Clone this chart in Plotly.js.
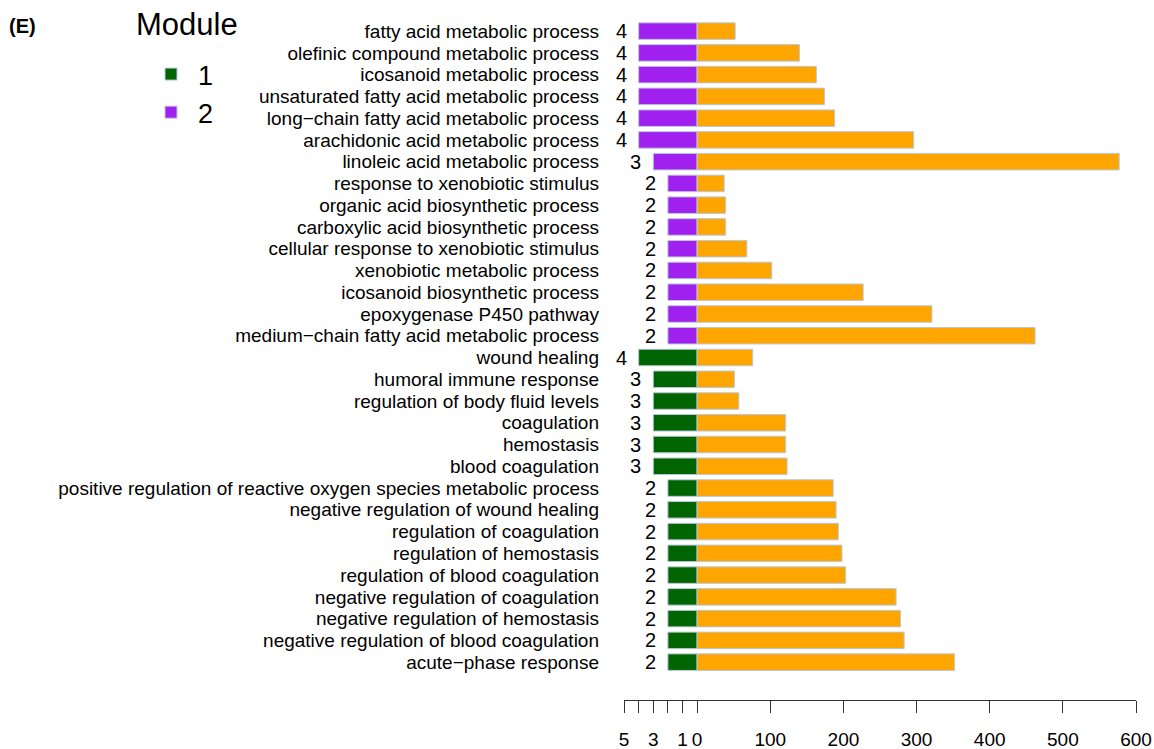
<!DOCTYPE html>
<html>
<head>
<meta charset="utf-8">
<script src="https://cdn.plot.ly/plotly-3.0.1.min.js"></script>
<style>html,body{margin:0;padding:0;background:#fff;}#chart{width:1154px;height:749px;}</style>
</head>
<body>
<div id="chart"></div>
<script>
// GO terms, top to bottom
const terms = [
  "fatty acid metabolic process",
  "olefinic compound metabolic process",
  "icosanoid metabolic process",
  "unsaturated fatty acid metabolic process",
  "long\u2212chain fatty acid metabolic process",
  "arachidonic acid metabolic process",
  "linoleic acid metabolic process",
  "response to xenobiotic stimulus",
  "organic acid biosynthetic process",
  "carboxylic acid biosynthetic process",
  "cellular response to xenobiotic stimulus",
  "xenobiotic metabolic process",
  "icosanoid biosynthetic process",
  "epoxygenase P450 pathway",
  "medium\u2212chain fatty acid metabolic process",
  "wound healing",
  "humoral immune response",
  "regulation of body fluid levels",
  "coagulation",
  "hemostasis",
  "blood coagulation",
  "positive regulation of reactive oxygen species metabolic process",
  "negative regulation of wound healing",
  "regulation of coagulation",
  "regulation of hemostasis",
  "regulation of blood coagulation",
  "negative regulation of coagulation",
  "negative regulation of hemostasis",
  "negative regulation of blood coagulation",
  "acute\u2212phase response"
];
const modules = [2,2,2,2,2,2,2,2,2,2,2,2,2,2,2,1,1,1,1,1,1,1,1,1,1,1,1,1,1,1];
const geneCounts = [4,4,4,4,4,4,3,2,2,2,2,2,2,2,2,4,3,3,3,3,3,2,2,2,2,2,2,2,2,2];
const enrichment = [52,140,163,174,188,296,577,37,39,39,68,102,227,321,462,
                    76,51,57,121,121,123,186,190,193,198,203,272,278,283,352];

// axis tick labels
const countTicks = [5,4,3,2,1,0];
const countTickText = ["5","","3","","1","0"];
const enrichTicks = [100,200,300,400,500,600];

const countScale = 20; // left side: one gene = 20 units of the right-hand scale
const moduleColors = {1:"#006400", 2:"#A020F0"};
const outline = {color:"#B9C9DA", width:1};
const FONT = "Liberation Sans, Arial, sans-serif";

const traces = [];
[1,2].forEach(m => {
  const ys = [], xs = [];
  terms.forEach((t,i) => { if (modules[i] === m) { ys.push(t); xs.push(-geneCounts[i]*countScale); } });
  traces.push({
    type:"bar", orientation:"h", name:String(m), y:ys, x:xs,
    marker:{color:moduleColors[m], line:outline}, width:0.76,
    hoverinfo:"skip"
  });
});
traces.push({
  type:"bar", orientation:"h", name:"enrichment", y:terms, x:enrichment,
  marker:{color:"#FFA500", line:outline}, width:0.76, showlegend:false,
  hoverinfo:"skip"
});

const annotations = terms.map((t,i) => ({
  x:-geneCounts[i]*countScale, y:t, xref:"x", yref:"y",
  text:String(geneCounts[i]), showarrow:false, xanchor:"right", yanchor:"middle",
  xshift:-10, font:{family:FONT, size:20, color:"#000"}
}));
annotations.push({
  xref:"paper", yref:"paper", x:(7-624)/512, y:1.0, xanchor:"left", yanchor:"middle",
  yshift:-16, text:"<b>(E)</b>", showarrow:false,
  font:{family:FONT, size:20, color:"#000"}
});
annotations.push({
  xref:"paper", yref:"paper", x:(134-624)/512, y:1.0, xanchor:"left", yanchor:"middle",
  yshift:-14, text:"Module", showarrow:false,
  font:{family:FONT, size:31, color:"#000"}
});

const layout = {
  width:1154, height:749,
  margin:{l:624, r:18, t:10, b:49, pad:0},
  paper_bgcolor:"#fff", plot_bgcolor:"#fff",
  barmode:"overlay",
  showlegend:true,
  legend:{
    x:(144-624)/512, y:0.942, xanchor:"left", yanchor:"top", yref:"paper",
    itemwidth:44,
    font:{family:FONT, size:27, color:"#000"},
    bgcolor:"rgba(0,0,0,0)", traceorder:"normal", itemclick:false
  },
  xaxis:{
    range:[-countScale*5, 600], fixedrange:true,
    tickmode:"array",
    tickvals:countTicks.map(c => -c*countScale).concat(enrichTicks),
    ticktext:countTickText.concat(enrichTicks.map(String)),
    ticks:"outside", ticklen:12, tickwidth:1, tickcolor:"#333",
    showline:true, linecolor:"#333", linewidth:1,
    showgrid:false, zeroline:false,
    ticklabelstandoff:10,
    tickfont:{family:FONT, size:19, color:"#000"}
  },
  yaxis:{
    type:"category", categoryorder:"array", categoryarray:terms,
    tickmode:"array", tickvals:terms, ticktext:terms,
    range:[30.74, -0.97], fixedrange:true,
    showline:false, showgrid:false, zeroline:false, ticks:"",
    ticklabelstandoff:24,
    tickfont:{family:FONT, size:19, color:"#000"}
  },
  annotations:annotations
};

Plotly.newPlot("chart", traces, layout, {displayModeBar:false, staticPlot:true});
</script>
</body>
</html>
